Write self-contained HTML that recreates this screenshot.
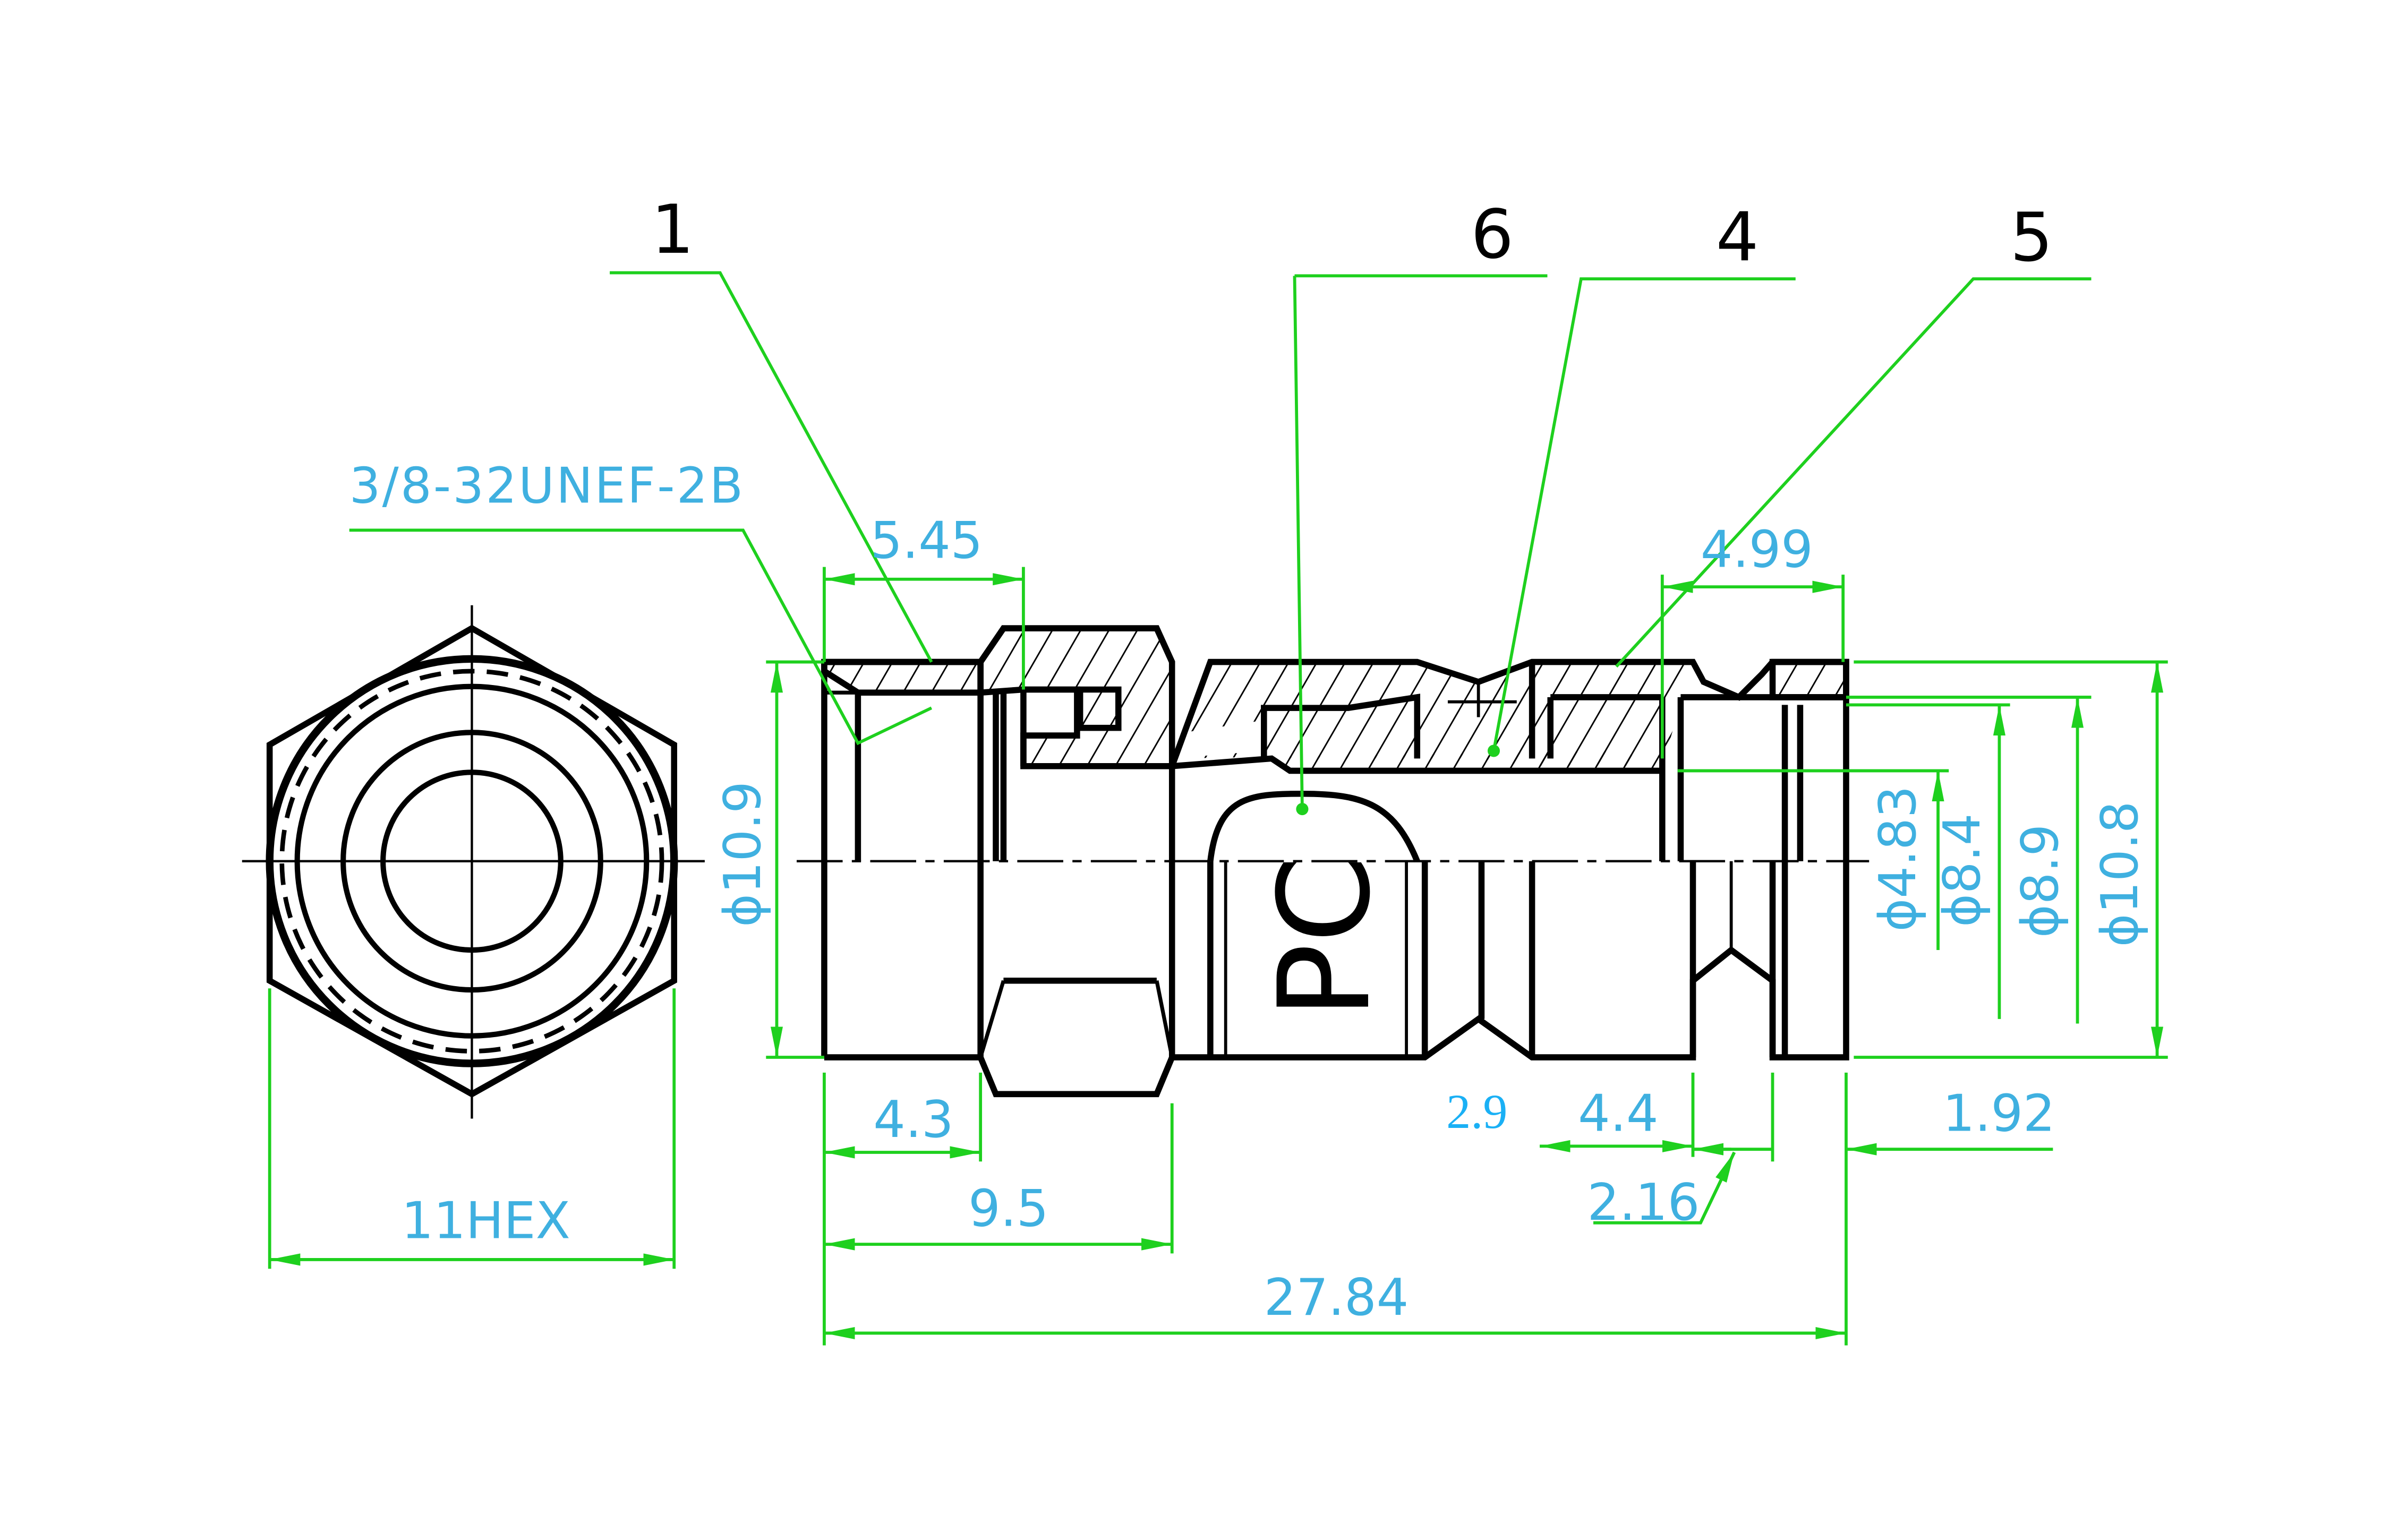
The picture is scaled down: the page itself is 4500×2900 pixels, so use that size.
<!DOCTYPE html>
<html><head><meta charset="utf-8"><style>
html,body{margin:0;padding:0;background:#fff;}
svg{display:block;}
text{font-family:"DejaVu Sans","Liberation Sans",sans-serif;fill:#3fb0e0;font-size:33px;}
</style></head><body>
<svg width="4500" height="2900" viewBox="0 0 1560 1005" preserveAspectRatio="none" xmlns="http://www.w3.org/2000/svg">
<defs>
<pattern id="h" patternUnits="userSpaceOnUse" width="16" height="16" patternTransform="rotate(30)">
<line x1="0" y1="0" x2="0" y2="16" stroke="#000" stroke-width="2"/>
</pattern>
<marker id="a" viewBox="0 0 20 8" refX="20" refY="4" markerWidth="20" markerHeight="8" markerUnits="userSpaceOnUse" orient="auto-start-reverse"><path d="M0,0 L20,4 L0,8 z" fill="#1ed01e"/></marker>
</defs>
<rect width="1560" height="1005" fill="#fff"/>

<!-- HEX VIEW -->
<g stroke="#000" fill="none">
<line x1="158" y1="562" x2="460" y2="562" stroke-width="1.5"/>
<line x1="308" y1="395" x2="308" y2="730" stroke-width="1.5"/>
<polygon points="308,410 440,486 440,640 308,714 176,640 176,486" stroke-width="4"/>
<circle cx="308" cy="562" r="132" stroke-width="5"/>
<circle cx="308" cy="562" r="124" stroke-width="3" stroke-dasharray="14,8"/>
<circle cx="308" cy="562" r="114" stroke-width="3.5"/>
<circle cx="308" cy="562" r="84" stroke-width="3.5"/>
<circle cx="308" cy="562" r="58" stroke-width="3.5"/>
</g>

<!-- MAIN BODY -->
<g stroke="#000" stroke-width="4" fill="none" stroke-linejoin="miter">
<polygon points="538,432 640,432 640,452 560,452 538,438" fill="url(#h)"/>
<polygon points="640,432 655,410 755,410 765,432 765,500 668,500 668,480 703,480 703,450 668,450 640,452" fill="url(#h)"/>
<polygon points="765,500 790,432 925,432 965,445 1000,432 1105,432 1085,500 1000,500 965,495 825,495 825,470 760,480" fill="url(#h)" stroke="none"/>
<polygon points="765,495 825,490 842,503 1085,503 1060,490 765,495" fill="url(#h)" stroke="none"/>
<polygon points="1157,432 1205,432 1205,455 1157,455" fill="url(#h)"/>
<polyline points="538,432 640,432"/>
<line x1="538" y1="432" x2="538" y2="690"/>
<line x1="538" y1="690" x2="640" y2="690"/>
<line x1="560" y1="452" x2="560" y2="562"/>
<line x1="640" y1="452" x2="640" y2="562"/>
<line x1="538" y1="452" x2="640" y2="452" stroke-width="2.5"/>
<polyline points="640,432 655,410 755,410 765,432 765,690 755,714 650,714 640,690 640,562"/>
<line x1="650" y1="452" x2="650" y2="562"/>
<line x1="655" y1="452" x2="655" y2="562"/>
<polyline points="668,500 668,450 703,450"/>
<rect x="705" y="450" width="25" height="25"/>
<line x1="668" y1="500" x2="765" y2="500"/>
<line x1="655" y1="640" x2="755" y2="640"/>
<line x1="640" y1="690" x2="655" y2="640" stroke-width="2.5"/>
<line x1="765" y1="690" x2="755" y2="640" stroke-width="2.5"/>
<polyline points="765,500 790,432 925,432 965,445 1000,432 1105,432 1112,445 1135,455 1150,440 1157,432 1205,432 1205,690 1157,690 1157,640 1130,620 1105,640 1105,690 1000,690 965,665 930,690 790,690 765,690"/>
<polyline points="825,495 825,462 880,462 925,455 925,495"/>
<polyline points="765,500 830,495 842,503 1085,503"/>
<line x1="965" y1="445" x2="965" y2="468" stroke-width="2"/>
<line x1="945" y1="458" x2="990" y2="458" stroke-width="2"/>
<line x1="1000" y1="432" x2="1000" y2="495"/>
<line x1="1012" y1="455" x2="1012" y2="495"/>
<line x1="1012" y1="455" x2="1085" y2="455"/>
<line x1="1085" y1="455" x2="1085" y2="562"/>
<line x1="1097" y1="455" x2="1097" y2="562"/>
<line x1="1097" y1="455" x2="1205" y2="455"/>
<line x1="1165" y1="460" x2="1165" y2="562"/>
<line x1="1175" y1="460" x2="1175" y2="562"/>
<path d="M790,562 C795,520 815,518 850,518 C890,518 910,525 925,562" />
<line x1="790" y1="562" x2="790" y2="690"/>
<line x1="800" y1="562" x2="800" y2="690" stroke-width="2"/>
<line x1="918" y1="562" x2="918" y2="690" stroke-width="2"/>
<line x1="930" y1="562" x2="930" y2="690"/>
<line x1="967" y1="562" x2="967" y2="665"/>
<line x1="1000" y1="562" x2="1000" y2="690"/>
<line x1="1105" y1="562" x2="1105" y2="690"/>
<line x1="1130" y1="562" x2="1130" y2="620" stroke-width="2"/>
<line x1="1157" y1="562" x2="1157" y2="690"/>
<line x1="1165" y1="562" x2="1165" y2="690"/>
</g>
<text transform="translate(893,665) rotate(-90)" style="font-size:82px;fill:#000;font-family:'DejaVu Sans',sans-serif">PC</text>
<line x1="520" y1="562" x2="1220" y2="562" stroke="#000" stroke-width="1.5" stroke-dasharray="30,6,6,6"/>

<!-- GREEN DIMENSIONS -->
<g stroke="#1ed01e" stroke-width="2" fill="none">
<polyline points="398,178 470,178 608,432"/>
<polyline points="845,180 1010,180"/>
<line x1="845" y1="180" x2="850" y2="528"/>
<polyline points="1172,182 1032,182 975,490"/>
<polyline points="1365,182 1288,182 1055,435"/>
<polyline points="228,346 485,346 560,485 608,462"/>
<line x1="538" y1="370" x2="538" y2="432"/>
<line x1="668" y1="370" x2="668" y2="450"/>
<line x1="538" y1="378" x2="668" y2="378" marker-start="url(#a)" marker-end="url(#a)"/>
<line x1="1085" y1="375" x2="1085" y2="495"/>
<line x1="1203" y1="375" x2="1203" y2="432"/>
<line x1="1085" y1="383" x2="1203" y2="383" marker-start="url(#a)" marker-end="url(#a)"/>
<line x1="500" y1="432" x2="538" y2="432"/>
<line x1="500" y1="690" x2="538" y2="690"/>
<line x1="507" y1="432" x2="507" y2="690" marker-start="url(#a)" marker-end="url(#a)"/>
<line x1="1210" y1="432" x2="1415" y2="432"/>
<line x1="1210" y1="690" x2="1415" y2="690"/>
<line x1="1408" y1="432" x2="1408" y2="690" marker-start="url(#a)" marker-end="url(#a)"/>
<line x1="1205" y1="455" x2="1365" y2="455"/>
<line x1="1356" y1="455" x2="1356" y2="668" marker-start="url(#a)"/>
<line x1="1205" y1="460" x2="1312" y2="460"/>
<line x1="1305" y1="460" x2="1305" y2="665" marker-start="url(#a)"/>
<line x1="1095" y1="503" x2="1272" y2="503"/>
<line x1="1265" y1="503" x2="1265" y2="620" marker-start="url(#a)"/>
<line x1="176" y1="645" x2="176" y2="828"/>
<line x1="440" y1="645" x2="440" y2="828"/>
<line x1="176" y1="822" x2="440" y2="822" marker-start="url(#a)" marker-end="url(#a)"/>
<line x1="538" y1="700" x2="538" y2="878"/>
<line x1="640" y1="700" x2="640" y2="758"/>
<line x1="765" y1="720" x2="765" y2="818"/>
<line x1="1205" y1="700" x2="1205" y2="878"/>
<line x1="1105" y1="700" x2="1105" y2="755"/>
<line x1="1157" y1="700" x2="1157" y2="758"/>
<line x1="538" y1="752" x2="640" y2="752" marker-start="url(#a)" marker-end="url(#a)"/>
<line x1="538" y1="812" x2="765" y2="812" marker-start="url(#a)" marker-end="url(#a)"/>
<line x1="538" y1="870" x2="1205" y2="870" marker-start="url(#a)" marker-end="url(#a)"/>
<line x1="1005" y1="748" x2="1105" y2="748" marker-start="url(#a)" marker-end="url(#a)"/>
<line x1="1340" y1="750" x2="1205" y2="750" marker-end="url(#a)"/>
<line x1="1105" y1="750" x2="1157" y2="750"/>
<line x1="1130" y1="750" x2="1105" y2="750" marker-end="url(#a)"/>
<polyline points="1040,798 1110,798 1132,752" />
<line x1="1110" y1="798" x2="1132" y2="752" marker-end="url(#a)"/>
</g>
<g fill="#1ed01e">
<circle cx="850" cy="528" r="4"/><circle cx="975" cy="490" r="4"/>
</g>

<g>
<text x="425" y="165" style="fill:#000;font-size:44px">1</text>
<text x="960" y="168" style="fill:#000;font-size:44px">6</text>
<text x="1120" y="170" style="fill:#000;font-size:44px">4</text>
<text x="1312" y="170" style="fill:#000;font-size:44px">5</text>
<text x="228" y="328" style="font-size:32px" textLength="257">3/8-32UNEF-2B</text>
<text x="568" y="364">5.45</text>
<text x="1110" y="370">4.99</text>
<text x="570" y="742">4.3</text>
<text x="632" y="800">9.5</text>
<text x="825" y="858">27.84</text>
<text x="262" y="808">11HEX</text>
<text x="1030" y="738">4.4</text>
<text x="1268" y="738">1.92</text>
<text x="1036" y="796">2.16</text>
<text x="944" y="736" style="font-family:'Liberation Serif',serif;font-size:32px;fill:#1ab0f5">2.9</text>
<text transform="translate(496,605) rotate(-90)">ϕ10.9</text>
<text transform="translate(1250,608) rotate(-90)">ϕ4.83</text>
<text transform="translate(1292,605) rotate(-90)">ϕ8.4</text>
<text transform="translate(1343,612) rotate(-90)">ϕ8.9</text>
<text transform="translate(1395,618) rotate(-90)">ϕ10.8</text>
</g>
</svg>
</body></html>
